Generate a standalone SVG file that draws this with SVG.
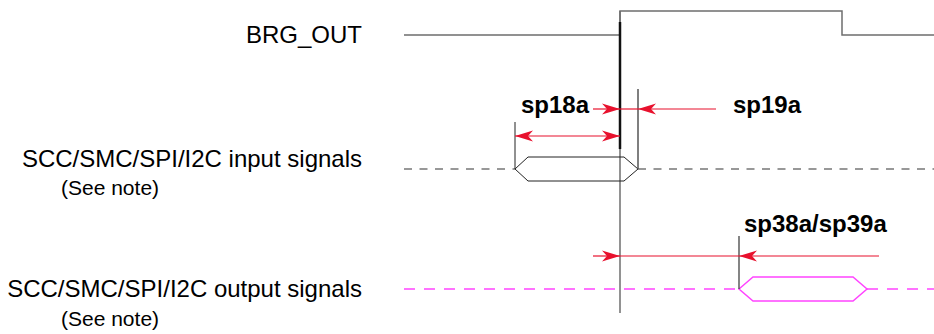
<svg xmlns="http://www.w3.org/2000/svg" width="934" height="334" viewBox="0 0 934 334">
<style>
.lbl{font-family:"Liberation Sans",Arial,sans-serif;font-size:24px;fill:#000}
.note{font-family:"Liberation Sans",Arial,sans-serif;font-size:21px;fill:#000}
.bold{font-family:"Liberation Sans",Arial,sans-serif;font-size:24px;font-weight:bold;fill:#000}
.wave{fill:none;stroke:#6e6e6e;stroke-width:1.5}
.red{fill:none;stroke:#e8112d;stroke-width:1.2}
.blk{fill:none;stroke:#222;stroke-width:1}
.dash{fill:none;stroke:#333;stroke-width:1.2;stroke-dasharray:8 7.5}
.mag{fill:none;stroke:#ff44ff;stroke-width:1.5}
.magdash{fill:none;stroke:#ff44ff;stroke-width:1.5;stroke-dasharray:11 9}
</style>
<defs>
<marker id="ah" viewBox="-18 -6 19 12" refX="0" refY="0" markerWidth="19" markerHeight="12" markerUnits="userSpaceOnUse" orient="auto-start-reverse">
<path d="M0,0 L-18,-5.5 L-13,0 L-18,5.5 Z" fill="#e8112d"/>
</marker>
</defs>
<g id="labels">
<text class="lbl" x="362" y="43" text-anchor="end">BRG_OUT</text>
<text class="lbl" x="362" y="167" text-anchor="end">SCC/SMC/SPI/I2C input signals</text>
<text class="note" x="61" y="195">(See note)</text>
<text class="lbl" x="362" y="297" text-anchor="end">SCC/SMC/SPI/I2C output signals</text>
<text class="note" x="61" y="326">(See note)</text>
</g>
<g id="brg_out">
<polyline class="wave" points="404,35 620,35 620,11 842,11 842,35 934,35"/>
<line class="wave" x1="620" y1="11" x2="620" y2="313"/>
<line x1="620" y1="22" x2="620" y2="149" stroke="#111" stroke-width="2.5"/>
</g>
<g id="input_signals">
<polyline class="dash" points="404,169 515,169"/>
<polyline class="dash" points="638,169 934,169"/>
<polygon class="blk" points="515,169 528,157 624,157 638,169 624,181 528,181"/>
<line class="blk" x1="515" y1="122" x2="515" y2="169"/>
<line x1="638" y1="89" x2="638" y2="169" stroke="#555" stroke-width="1.5"/>
</g>
<g id="output_signals">
<polyline class="magdash" points="404,289 739,289"/>
<polyline class="magdash" points="867,289 934,289"/>
<polygon class="mag" points="739,289 753,277 853,277 867,289 853,301 753,301"/>
<line x1="739" y1="236" x2="739" y2="289" stroke="#333" stroke-width="1.2"/>
</g>
<g id="connectors">
<line class="red" x1="593" y1="109" x2="620" y2="109" marker-end="url(#ah)"/>
<line class="red" x1="620" y1="109" x2="638" y2="109"/>
<line class="red" x1="716" y1="109" x2="638" y2="109" marker-end="url(#ah)"/>
<line class="red" x1="515" y1="136" x2="620" y2="136" marker-start="url(#ah)" marker-end="url(#ah)"/>
<line class="red" x1="593" y1="256" x2="620" y2="256" marker-end="url(#ah)"/>
<line class="red" x1="620" y1="256" x2="739" y2="256"/>
<line class="red" x1="879" y1="256" x2="739" y2="256" marker-end="url(#ah)"/>
</g>
<g id="timing_labels">
<text class="bold" x="521" y="113">sp18a</text>
<text class="bold" x="733" y="113">sp19a</text>
<text class="bold" x="744" y="232">sp38a/sp39a</text>
</g>
</svg>
